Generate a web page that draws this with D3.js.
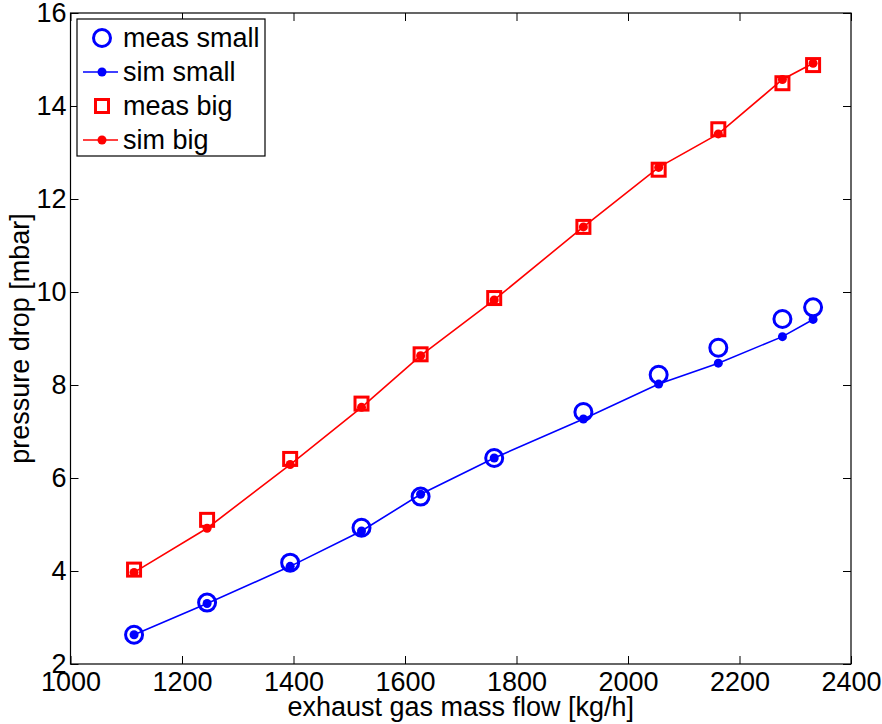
<!DOCTYPE html>
<html>
<head>
<meta charset="utf-8">
<script src="https://cdn.jsdelivr.net/npm/d3@7"></script>
<style>
  html, body { margin: 0; padding: 0; background: #fff; }
  svg { display: block; font-family: "Liberation Sans", Arial, sans-serif; }
</style>
</head>
<body>
<svg id="chart" width="882" height="724"></svg>
<script>
// Exhaust gas mass flow [kg/h] for each operating point
const flow = [1114, 1245, 1394, 1522, 1628, 1760, 1920, 2055, 2162, 2277, 2332];
// Pressure drop [mbar]
const measSmall = [2.63, 3.32, 4.18, 4.93, 5.60, 6.43, 7.42, 8.22, 8.80, 9.42, 9.67];
const simSmall  = [2.63, 3.30, 4.10, 4.86, 5.65, 6.43, 7.27, 8.02, 8.47, 9.04, 9.41];
const measBig   = [4.03, 5.10, 6.41, 7.60, 8.66, 9.87, 11.40, 12.63, 13.50, 14.49, 14.88];
const simBig    = [3.97, 4.92, 6.29, 7.52, 8.63, 9.83, 11.40, 12.68, 13.40, 14.57, 14.92];

const xTicks = [1000, 1200, 1400, 1600, 1800, 2000, 2200, 2400];
const yTicks = [2, 4, 6, 8, 10, 12, 14, 16];
const legendLabels = ["meas small", "sim small", "meas big", "sim big"];

const svg = d3.select("#chart");
const plotL = 70.5, plotR = 851, plotT = 13, plotB = 664;

const x = d3.scaleLinear().domain([1000, 2400]).range([plotL, plotR]);
const y = d3.scaleLinear().domain([2, 16]).range([plotB, plotT]);

const BLUE = "#0000ff", RED = "#ff0000";
const FS = 27;
const tickLen = 8;

// Axes: ticks point inward on all four sides
const axisStyle = g => {
  g.select(".domain").remove();
  g.selectAll(".tick line").attr("stroke", "#000").attr("stroke-width", 1);
  g.selectAll(".tick text").attr("fill", "#000").attr("font-size", FS)
    .attr("font-family", "Liberation Sans, Arial, sans-serif");
};

svg.append("g").attr("transform", `translate(0,${plotB})`)
  .call(d3.axisBottom(x).tickValues(xTicks).tickFormat(d3.format("d"))
    .tickSizeInner(-tickLen).tickSizeOuter(0).tickPadding(8))
  .call(axisStyle);
svg.append("g").attr("transform", `translate(0,${plotT})`)
  .call(d3.axisTop(x).tickValues(xTicks).tickFormat("")
    .tickSizeInner(-tickLen).tickSizeOuter(0))
  .call(axisStyle);
svg.append("g").attr("transform", `translate(${plotL},0)`)
  .call(d3.axisLeft(y).tickValues(yTicks).tickFormat(d3.format("d"))
    .tickSizeInner(-tickLen).tickSizeOuter(0).tickPadding(4))
  .call(axisStyle);
svg.append("g").attr("transform", `translate(${plotR},0)`)
  .call(d3.axisRight(y).tickValues(yTicks).tickFormat("")
    .tickSizeInner(-tickLen).tickSizeOuter(0))
  .call(axisStyle);

// Plot frame
svg.append("rect")
  .attr("x", plotL).attr("y", plotT)
  .attr("width", plotR - plotL).attr("height", plotB - plotT)
  .attr("fill", "none").attr("stroke", "#000").attr("stroke-width", 1.2);

// Axis titles
svg.append("text")
  .attr("x", (plotL + plotR) / 2).attr("y", 716)
  .attr("text-anchor", "middle").attr("font-size", FS)
  .text("exhaust gas mass flow [kg/h]");
svg.append("text")
  .attr("transform", `translate(29,${(plotT + plotB) / 2}) rotate(-90)`)
  .attr("text-anchor", "middle").attr("font-size", FS)
  .text("pressure drop [mbar]");

const plot = svg.append("g");
const line = d3.line().x(d => x(d[0])).y(d => y(d[1]));
const pts = vals => flow.map((f, i) => [f, vals[i]]);

function drawCircles(data, color) {
  plot.append("g").selectAll("circle").data(data).join("circle")
    .attr("cx", d => x(d[0])).attr("cy", d => y(d[1])).attr("r", 8.5)
    .attr("fill", "none").attr("stroke", color).attr("stroke-width", 3);
}
function drawSquares(data, color) {
  const s = 13;
  plot.append("g").selectAll("rect").data(data).join("rect")
    .attr("x", d => x(d[0]) - s / 2).attr("y", d => y(d[1]) - s / 2)
    .attr("width", s).attr("height", s)
    .attr("fill", "none").attr("stroke", color).attr("stroke-width", 3);
}
function drawSim(data, color) {
  plot.append("path").datum(data).attr("d", line)
    .attr("fill", "none").attr("stroke", color).attr("stroke-width", 1.6);
  plot.append("g").selectAll("circle").data(data).join("circle")
    .attr("cx", d => x(d[0])).attr("cy", d => y(d[1])).attr("r", 4.5)
    .attr("fill", color);
}

drawCircles(pts(measSmall), BLUE);
drawSim(pts(simSmall), BLUE);
drawSquares(pts(measBig), RED);
drawSim(pts(simBig), RED);

// Legend
const lg = svg.append("g");
lg.append("rect").attr("x", 77).attr("y", 19).attr("width", 188).attr("height", 137)
  .attr("fill", "#fff").attr("stroke", "#000").attr("stroke-width", 1.2);
const rowY = [38, 72, 106, 140];
const mx = 102;
legendLabels.forEach((lab, i) => {
  const ry = rowY[i];
  if (i === 0) {
    lg.append("circle").attr("cx", mx).attr("cy", ry).attr("r", 8.5)
      .attr("fill", "none").attr("stroke", BLUE).attr("stroke-width", 3);
  } else if (i === 2) {
    lg.append("rect").attr("x", mx - 6.5).attr("y", ry - 6.5).attr("width", 13).attr("height", 13)
      .attr("fill", "none").attr("stroke", RED).attr("stroke-width", 3);
  } else {
    const c = i === 1 ? BLUE : RED;
    lg.append("line").attr("x1", 83).attr("x2", 118).attr("y1", ry).attr("y2", ry)
      .attr("stroke", c).attr("stroke-width", 1.6);
    lg.append("circle").attr("cx", mx).attr("cy", ry).attr("r", 4.5).attr("fill", c);
  }
  lg.append("text").attr("x", 123).attr("y", ry).attr("dy", "0.35em")
    .attr("font-size", FS).text(lab);
});
</script>
</body>
</html>
